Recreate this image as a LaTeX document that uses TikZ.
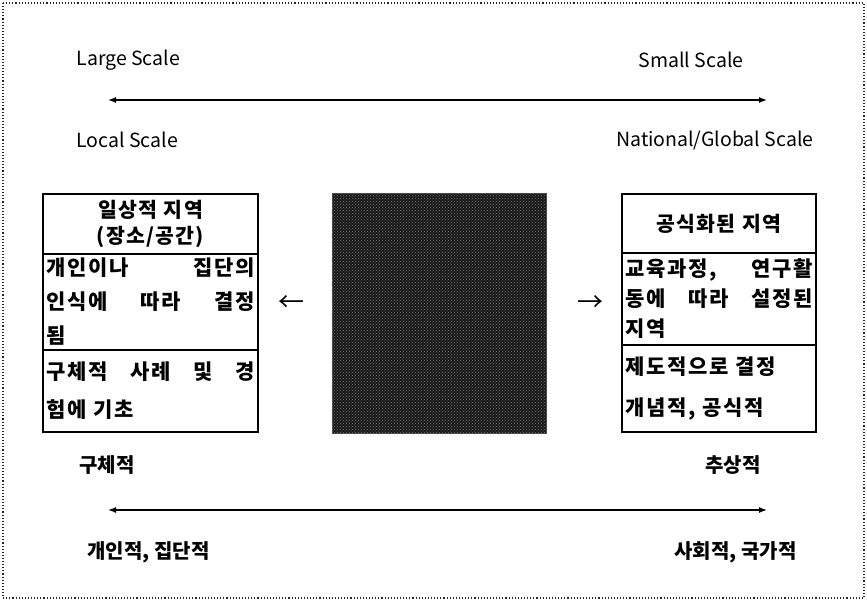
\documentclass[tikz,border=0pt]{standalone}
\usepackage{fontspec}
\setmainfont{Noto Sans CJK KR}
\usetikzlibrary{positioning,arrows.meta,patterns}

\tikzset{
  part/.style={draw, line width=1.2pt, outer sep=0pt, inner sep=3pt, align=left},
  headtext/.style={font=\bfseries\fontsize{20.5}{26}\selectfont\addfontfeature{LetterSpace=6}, align=center},
  scaletext/.style={font=\fontsize{19.5}{22}\selectfont},
  poletext/.style={font=\bfseries\fontsize{20}{24}\selectfont},
  spread/.style={{Latex[length=8pt,width=6pt]}-{Latex[length=8pt,width=6pt]}, line width=1.4pt},
  hidden/.style={draw=black!70, outer sep=0pt, minimum width=214pt, minimum height=240pt,
    preaction={fill=black!90}, pattern=crosshatch dots, pattern color=black!55},
}
\newcommand{\bodyfont}[1]{\bfseries\fontsize{21}{#1}\selectfont\addfontfeature{LetterSpace=8}}

\begin{document}
\begin{tikzpicture}[x=1pt,y=-1pt]
  \useasboundingbox (0,0) rectangle (867,602);
  % dotted frame round everything
  \draw [dotted, line width=1.1pt, black!85] (3,3) rectangle (864,598);

  % Scale axis on top
  \node [scaletext, anchor=west] (large) at (73,60) {Large Scale};
  \node [scaletext, anchor=east] (small) at (747,60) {Small Scale};
  \coordinate (topL) at (108,100);
  \coordinate (topR) at (767,100);
  \draw [spread] (topL) -- (topR);
  \node [scaletext, anchor=west] (local) at (73,140) {Local Scale};
  \node [scaletext, anchor=east] (global) at (817,140) {National/Global Scale};

  % Everyday region (left)
  \node [part, headtext, anchor=north, text width=209pt, minimum height=60pt] (Lhead) at (150.5,194)
    {일상적 지역\\(장소/공간)};
  \node [part, below=0pt of Lhead, text width=209pt, minimum height=96pt, font=\bodyfont{34}] (Lbody)
    {\makebox[209pt]{개인이나\hfill 집단의}\\\makebox[209pt]{인식에\hfill 따라\hfill 결정}\\됨};
  \node [part, below=0pt of Lbody, text width=209pt, minimum height=82pt, font=\bodyfont{38}] (Lfoot)
    {\makebox[209pt]{구체적\hfill 사례\hfill 및\hfill 경}\\험에 기초};

  % Blacked-out middle table
  \node [hidden] (mid) at (439,313) {};

  % Formal region (right)
  \node [part, headtext, anchor=north, text width=188pt, minimum height=59pt] (Rhead) at (719,194)
    {공식화된 지역};
  \node [part, below=0pt of Rhead, text width=188pt, minimum height=92pt, font=\bodyfont{30}] (Rbody)
    {\makebox[188pt]{교육과정,\hfill 연구활}\\\makebox[188pt]{동에\hfill 따라\hfill 설정된}\\지역};
  \node [part, below=0pt of Rbody, text width=188pt, minimum height=87pt, font=\bodyfont{41}] (Rfoot)
    {제도적으로 결정\\개념적, 공식적};

  % Pointers either side of the middle
  \node [font=\fontsize{26}{28}\selectfont] (toL) at (291,304) {←};
  \node [font=\fontsize{26}{28}\selectfont] (toR) at (590,304) {→};

  % Concrete / abstract axis at the bottom
  \node [poletext] (concrete) at (107,465) {구체적};
  \node [poletext] (abstract) at (733,465) {추상적};
  \coordinate (botL) at (108,510);
  \coordinate (botR) at (767,510);
  \draw [spread] (botL) -- (botR);
  \node [poletext, anchor=west] (personal) at (84,552) {개인적, 집단적};
  \node [poletext, anchor=east] (national) at (800,552) {사회적, 국가적};
\end{tikzpicture}
\end{document}
